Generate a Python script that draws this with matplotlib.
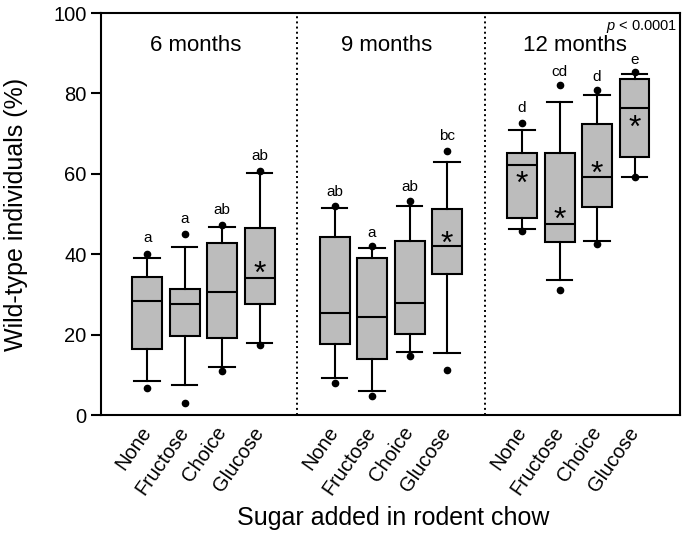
import numpy as np
from matplotlib import pyplot as plt

plt.rcParams['font.family'] = ['Liberation Sans', 'DejaVu Sans']
plt.rcParams['mathtext.fontset'] = 'custom'
plt.rcParams['mathtext.rm'] = 'Liberation Sans'
plt.rcParams['mathtext.it'] = 'Liberation Sans:italic'

# Dados
sugars = ['None', 'Fructose', 'Choice', 'Glucose']
ages = ['6 months', '9 months', '12 months']
positions = [1, 2, 3, 4, 6, 7, 8, 9, 11, 12, 13, 14]

whislo = [8.5, 7.4, 11.9, 17.9, 9.3, 5.9, 15.7, 15.5, 46.2, 33.6, 43.2, 59.3]
q1 = [16.3, 19.7, 19.2, 27.5, 17.7, 13.9, 20.2, 35.2, 49.0, 43.0, 51.7, 64.2]
med = [28.4, 27.5, 30.5, 34.2, 25.3, 24.5, 27.8, 42.0, 62.3, 47.5, 59.3, 76.4]
q3 = [34.4, 31.3, 42.7, 46.6, 44.3, 39.0, 43.2, 51.2, 65.3, 65.1, 72.4, 83.6]
whishi = [39.1, 41.8, 46.8, 60.1, 51.4, 41.6, 52.0, 63.0, 70.8, 77.8, 79.7, 84.9]
out_lo = [6.8, 2.9, 10.9, 17.4, 7.9, 4.7, 14.7, 11.1, 45.8, 31.1, 42.5, 59.1]
out_hi = [40.0, 45.0, 47.3, 60.8, 52.1, 42.0, 53.2, 65.7, 72.7, 82.0, 80.8, 85.4]

letters = ['a', 'a', 'ab', 'ab', 'ab', 'a', 'ab', 'bc', 'd', 'cd', 'd', 'e']
letter_y = [44.0, 48.8, 51.0, 64.4, 55.5, 45.2, 56.6, 69.4, 76.3, 85.4, 84.2, 88.3]

star_pos = [4, 9, 11, 12, 13, 14]
star_y = [36.9, 44.4, 59.3, 50.4, 61.8, 73.2]

title_x = [2.3, 7.4, 12.4]

fig = plt.figure(figsize=(6.85, 5.36), dpi=100)
ax = fig.add_axes([0.1475, 0.2257, 0.845, 0.75])

stats = []
for i in range(len(positions)):
    stats.append(dict(whislo=whislo[i], q1=q1[i], med=med[i], q3=q3[i],
                      whishi=whishi[i], fliers=[out_lo[i], out_hi[i]]))

lw = 1.5
ax.bxp(stats, positions=positions, widths=0.8, capwidths=0.68, patch_artist=True,
       boxprops=dict(facecolor='#bcbcbc', edgecolor='black', linewidth=lw),
       medianprops=dict(color='black', linewidth=lw),
       whiskerprops=dict(color='black', linewidth=lw),
       capprops=dict(color='black', linewidth=lw),
       flierprops=dict(marker='o', markerfacecolor='black', markeredgecolor='black',
                       markersize=4.5))

for p, l, y in zip(positions, letters, letter_y):
    ax.text(p, y, l, ha='center', va='center', fontsize=11)

for p, y in zip(star_pos, star_y):
    ax.annotate('*', (p, y), xytext=(0, -6), textcoords='offset points',
                ha='center', va='center', fontsize=23)

for x, t in zip(title_x, ages):
    ax.text(x, 92.0, t, ha='center', va='center', fontsize=16)

ax.text(0.995, 0.988, '$p$ < 0.0001', transform=ax.transAxes,
        ha='right', va='top', fontsize=10.5)

# linhas pontilhadas separando as idades
ax.axvline(5, color='black', linestyle=':', linewidth=1.4)
ax.axvline(10, color='black', linestyle=':', linewidth=1.4)

ax.set_xlim(-0.23, 15.21)
ax.set_ylim(0, 100)
ax.set_yticks([0, 20, 40, 60, 80, 100])
ax.set_xticks(positions)
ax.set_xticklabels(sugars * 3, rotation=55, ha='right', va='center',
                   rotation_mode='anchor')
ax.tick_params(axis='x', length=0, pad=10, labelsize=14.5)
ax.tick_params(axis='y', direction='out', length=7.5, width=lw, labelsize=14.5, pad=3)
for s in ax.spines.values():
    s.set_linewidth(lw)

ax.set_ylabel('Wild-type individuals (%)', fontsize=18, va='center')
ax.yaxis.set_label_coords(-0.147, 0.5)
ax.set_xlabel('Sugar added in rodent chow', fontsize=18, va='center')
ax.xaxis.set_label_coords(0.505, -0.256)

plt.savefig('out.png', dpi=100)
